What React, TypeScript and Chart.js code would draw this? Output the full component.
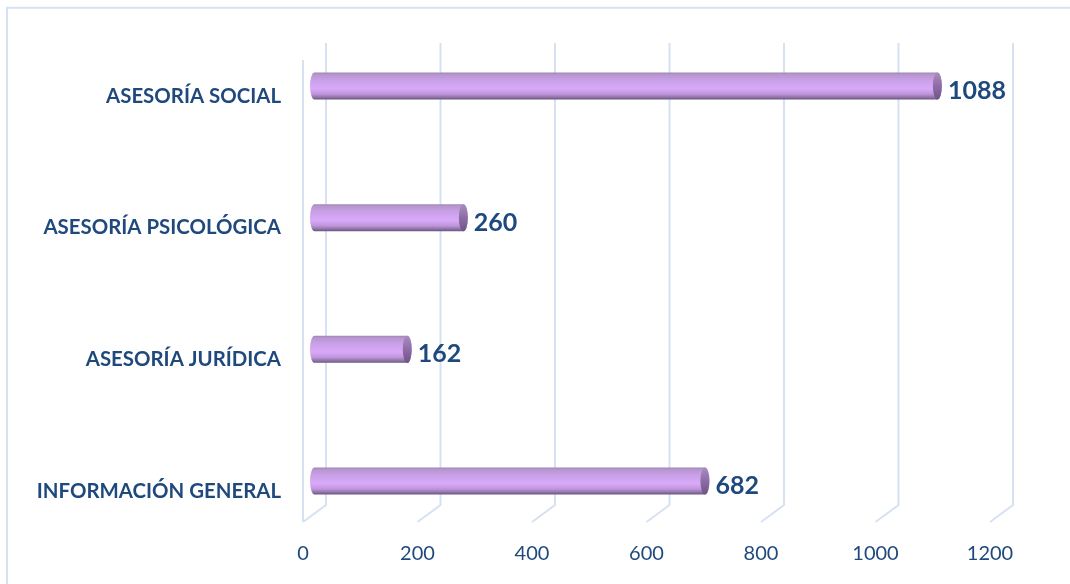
import React, { useEffect, useRef } from 'react';
import { Chart, registerables } from 'chart.js';

Chart.register(...registerables);

const categories = ['ASESORÍA SOCIAL', 'ASESORÍA PSICOLÓGICA', 'ASESORÍA JURÍDICA', 'INFORMACIÓN GENERAL'];
const values = [1088, 260, 162, 682];
const xTicks = [0, 200, 400, 600, 800, 1000, 1200];

const TEXT = '#1F497D';
const GRID = '#D6E2F2';
const DEPTH_X = 23;
const DEPTH_Y = 17;
const FONT = 'Lato, "Open Sans", sans-serif';

const framePlugin = {
  id: 'frame',
  beforeDraw(chart: any) {
    const { ctx } = chart;
    ctx.save();
    ctx.fillStyle = '#ffffff';
    ctx.fillRect(0, 0, chart.width, chart.height);
    ctx.strokeStyle = GRID;
    ctx.lineWidth = 2;
    ctx.strokeRect(7, 7.8, 1200, 800);
    ctx.restore();
  },
};

const gridPlugin = {
  id: 'grid3d',
  beforeDatasetsDraw(chart: any) {
    const { ctx, chartArea, scales } = chart;
    const xs = scales.x;
    const backTop = chartArea.top - 53;
    const backBottom = chartArea.bottom + 14;
    const floor = backBottom + DEPTH_Y;
    ctx.save();
    ctx.strokeStyle = GRID;
    ctx.lineWidth = 2;
    ctx.lineJoin = 'miter';
    const x0 = xs.getPixelForValue(xTicks[0]);
    ctx.beginPath();
    ctx.moveTo(x0, backTop + DEPTH_Y);
    ctx.lineTo(x0, floor);
    ctx.stroke();
    xTicks.forEach((v) => {
      const fx = xs.getPixelForValue(v);
      const bx = fx + DEPTH_X;
      ctx.beginPath();
      ctx.moveTo(bx, backTop);
      ctx.lineTo(bx, backBottom);
      ctx.lineTo(fx, floor);
      ctx.stroke();
    });
    ctx.restore();
  },
};

const cylinderPlugin = {
  id: 'cylinders',
  afterDatasetsDraw(chart: any) {
    const { ctx } = chart;
    const meta = chart.getDatasetMeta(0);
    const data = chart.data.datasets[0].data as number[];
    ctx.save();
    meta.data.forEach((el: any, i: number) => {
      const p = el.getProps(['x', 'y', 'base', 'height'], true);
      const dx = DEPTH_X / 2;
      const dy = 10;
      const xa = p.base + dx;
      const xb = p.x + dx;
      const yc = p.y - dy;
      const r = p.height / 2;
      const rx = 4.5;

      const g = ctx.createLinearGradient(0, yc - r, 0, yc + r);
      g.addColorStop(0, '#9F86B3');
      g.addColorStop(0.08, '#B796D0');
      g.addColorStop(0.3, '#CAA0E8');
      g.addColorStop(0.6, '#D9A9FA');
      g.addColorStop(0.8, '#BE95DA');
      g.addColorStop(0.92, '#8F73A6');
      g.addColorStop(1, '#6A5380');

      ctx.beginPath();
      ctx.moveTo(xa, yc - r);
      ctx.lineTo(xb, yc - r);
      ctx.ellipse(xb, yc, rx, r, 0, -Math.PI / 2, Math.PI / 2, false);
      ctx.lineTo(xa, yc + r);
      ctx.ellipse(xa, yc, rx, r, 0, Math.PI / 2, Math.PI * 1.5, false);
      ctx.closePath();
      ctx.fillStyle = g;
      ctx.fill();

      const gc = ctx.createLinearGradient(0, yc - r, 0, yc + r);
      gc.addColorStop(0, '#A88DBF');
      gc.addColorStop(0.5, '#8D6CA6');
      gc.addColorStop(1, '#6E5585');
      ctx.beginPath();
      ctx.ellipse(xb, yc, rx, r, 0, 0, Math.PI * 2);
      ctx.fillStyle = gc;
      ctx.fill();

      ctx.font = `bold 25px ${FONT}`;
      ctx.fillStyle = TEXT;
      ctx.textAlign = 'left';
      ctx.textBaseline = 'middle';
      ctx.fillText(String(data[i]), xb + rx + 6, yc + 5);
    });
    ctx.restore();
  },
};

export default function App() {
  const ref = useRef<HTMLCanvasElement | null>(null);

  useEffect(() => {
    if (!ref.current) return;
    const chart = new Chart(ref.current, {
      type: 'bar',
      data: {
        labels: categories,
        datasets: [
          {
            data: values,
            backgroundColor: 'rgba(0,0,0,0)',
            borderWidth: 0,
            barThickness: 27,
          },
        ],
      },
      options: {
        indexAxis: 'y',
        responsive: false,
        animation: false,
        devicePixelRatio: 1,
        layout: { padding: { top: 96, right: 80, left: 0, bottom: 0 } },
        plugins: {
          legend: { display: false },
          tooltip: { enabled: false },
        },
        scales: {
          x: {
            min: 0,
            max: 1200,
            afterBuildTicks: (s: any) => {
              s.ticks = xTicks.map((v) => ({ value: v }));
            },
            afterFit: (s: any) => {
              s.height = 93;
            },
            grid: { display: false, drawTicks: false },
            border: { display: false },
            ticks: {
              color: TEXT,
              font: { family: FONT, size: 20 },
              padding: 51,
              maxRotation: 0,
              autoSkip: false,
              callback: (v: any) => String(v),
            },
          },
          y: {
            offset: false,
            afterFit: (s: any) => {
              s.width = 303;
            },
            grid: { display: false, drawTicks: false },
            border: { display: false },
            ticks: {
              color: TEXT,
              font: { family: FONT, size: 20.4, weight: 'bold' },
              padding: 22,
              autoSkip: false,
            },
          },
        },
      } as any,
      plugins: [framePlugin, gridPlugin, cylinderPlugin],
    });
    return () => chart.destroy();
  }, []);

  return (
    <div style={{ position: 'fixed', left: 0, top: 0, width: 1070, height: 584, background: '#fff' }}>
      <canvas ref={ref} width={1070} height={584} style={{ width: 1070, height: 584, display: 'block' }} />
    </div>
  );
}
